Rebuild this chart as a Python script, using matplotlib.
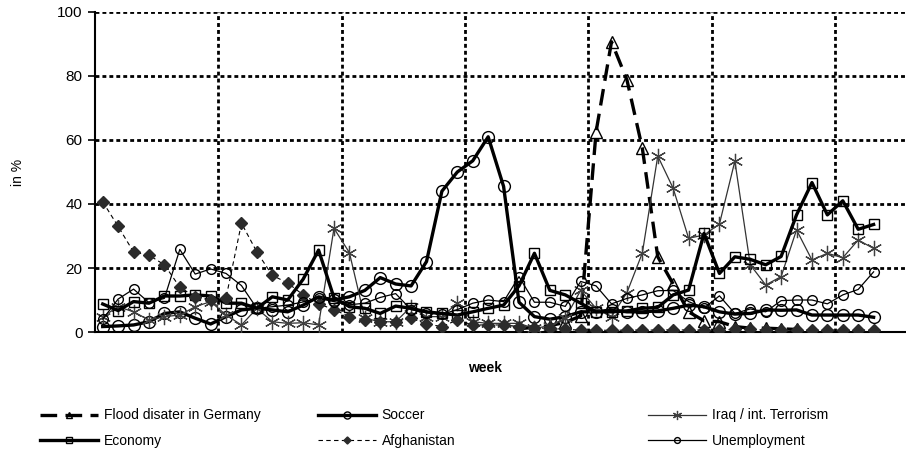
import numpy as np
import matplotlib
matplotlib.use("Agg")
import matplotlib.pyplot as plt

plt.rcParams['font.family'] = ['Liberation Sans', 'DejaVu Sans']

nan = np.nan

# weekly share of topics (in %), 51 weeks
flood = [nan] * 27 + [1, 1.5, 2, 3, 5, 62.6, 90.7, 78.8, 57.4, 23.5, 15, 6.3, 3.5, 3.2,
                      1.7, 1.2, 1.2, 1, 0.8] + [nan] * 5
soccer = [1.7, 1.9, 2.2, 3.2, 5.8, 6.3, 4.3, 2.5, 4.8, 6.9, 7.4, 6.9, 6.3, 8.4, 11, 10, 11,
          13, 17, 15, 14.4, 22, 44, 50, 53.5, 61, 45.5, 9.3, 4.8, 4, 4.8, 6.3, 6.3, 6.9, 6.3,
          6.3, 6.6, 7.4, 8.4, 7.9, 6.3, 5.6, 5.8, 6.9, 6.8, 6.9, 5.3, 5.3, 5.3, 5.3, 4.6]
iraq = [4.8, 7.9, 6.3, 3.75, 4.8, 5.3, 7.9, 9.5, 5.3, 2.2, 7.4, 3.2, 2.7, 2.9, 2.2, 32.4,
        24.8, 4.3, 3.2, 3.2, 7.9, 4.8, 4.8, 9, 3.2, 2.7, 2.7, 2.7, 1.1, 2, 4.3, 13, 7.4, 4.8,
        12.3, 24.7, 55, 44.9, 29.3, 30.3, 33.75, 53.4, 21, 14.7, 17.3, 31.9, 22.5, 24.6,
        23.2, 28.75, 26.1]
economy = [8.75, 6.7, 9.5, 9, 11.25, 11.25, 11.6, 11.25, 9, 9, 7.4, 11, 10, 16.5, 25.6,
           10.7, 7.9, 7.4, 5.8, 8.1, 7.4, 6.3, 5.8, 5.3, 6.3, 7.4, 8.4, 14.4, 24.6, 13, 11.6,
           9, 6.3, 6.3, 6.6, 7.4, 7.7, 11.6, 13.1, 30.8, 18.3, 23.5, 22.7, 21, 23.6, 36.6,
           46.7, 36.6, 41, 32.1, 33.6]
afghanistan = [40.7, 33, 25, 24, 21, 14, 11, 10, 10.7, 34, 25, 17.7, 15.3, 11.6, 8.8, 7,
               4.8, 3.75, 3.2, 3.2, 4.3, 2.5, 1.7, 3.75, 2.2, 2.2, 2.2, 1.7, 1.2, 1.2, 0.8,
               0.6, 0.6, 0.5, 0.6, 0.6, 0.6, 0.7, 0.6, 0.6, 0.6, 0.8, 0.8, 0.6, 0.6, 0.6,
               0.6, 0.6, 0.6, 0.6, 0.6]
unemployment = [4, 10.3, 13.4, 9.2, 10.5, 25.8, 18.1, 19.7, 18.3, 14.5, 7.4, 7.9, 8.4, 9.4,
                10.5, 9.5, 8.5, 9, 10.8, 12, 7, 6, 5.5, 7, 9, 10, 9.5, 17.3, 9.3, 9.3, 8,
                15.8, 14.4, 8.8, 10.5, 11.6, 12.9, 13, 9.5, 7.5, 11.3, 5.8, 7.2, 6.3, 9.8,
                10, 10, 8.8, 11.6, 13.3, 18.8]

weeks = np.arange(len(soccer)) + 0.5

fig = plt.figure(figsize=(9.06, 4.55), dpi=100)
ax = fig.add_axes([95 / 906, 1 - 332 / 455, 1 - 95 / 906, 320 / 455])

# heavy dotted gridlines like the original
grid_style = dict(color='black', lw=2.0, linestyle=(0, (1.4, 1.1)), zorder=1)
for y in [20, 40, 60, 80, 100]:
    ax.axhline(y, **grid_style)
for x in [8, 16, 24, 32, 40, 48]:
    ax.axvline(x, **grid_style)

l_flood, = ax.plot(weeks, flood, color='black', lw=2.4, linestyle=(0, (5, 2.5)),
                   marker='^', ms=8, mfc='none', mec='black', mew=1, zorder=3)
l_soccer, = ax.plot(weeks, soccer, color='black', lw=2.4, marker='o', ms=8.5,
                    mfc='none', mec='black', mew=1, zorder=3)
l_iraq, = ax.plot(weeks, iraq, color='#333333', lw=0.9, marker=(6, 2, 0), ms=11,
                  mec='#404040', mew=0.9, zorder=3)
l_econ, = ax.plot(weeks, economy, color='black', lw=2.4, marker='s', ms=7,
                  mfc='none', mec='black', mew=1, zorder=3)
l_afg, = ax.plot(weeks, afghanistan, color='black', lw=0.8, linestyle=(0, (4, 3)),
                 marker='D', ms=6, mfc='#2b2b2b', mec='#2b2b2b', zorder=3)
l_unemp, = ax.plot(weeks, unemployment, color='black', lw=0.9, marker='o', ms=7,
                   mfc='none', mec='black', mew=1, zorder=3)

ax.set_xlim(0, 52.6)
ax.set_ylim(0, 100)
ax.set_yticks([0, 20, 40, 60, 80, 100])
ax.set_xticks([])
ax.tick_params(axis='y', direction='out', length=5, width=1.2, labelsize=11, pad=4)
for s in ['top', 'right']:
    ax.spines[s].set_visible(False)
ax.spines['left'].set_linewidth(1.5)
ax.spines['bottom'].set_linewidth(1.5)

fig.text(18 / 906, 1 - 172 / 455, 'in %', rotation=90, ha='center', va='center', fontsize=10)
fig.text(485 / 906, 1 - 368 / 455, 'week', ha='center', va='center', fontsize=10,
         fontweight='bold')

cols = [([l_flood, l_econ], ['Flood disater in Germany', 'Economy'], 38),
        ([l_soccer, l_afg], ['Soccer', 'Afghanistan'], 316),
        ([l_iraq, l_unemp], ['Iraq / int. Terrorism', 'Unemployment'], 646)]
for handles, labels, x0 in cols:
    leg = fig.legend(handles, labels, loc='center left',
                     bbox_to_anchor=(x0 / 906 - 0.012, 1 - 428 / 455),
                     frameon=False, fontsize=10, handlelength=4.2, handletextpad=0.4,
                     labelspacing=0.8, markerscale=0.6)

fig.savefig('out.png', dpi=100)
